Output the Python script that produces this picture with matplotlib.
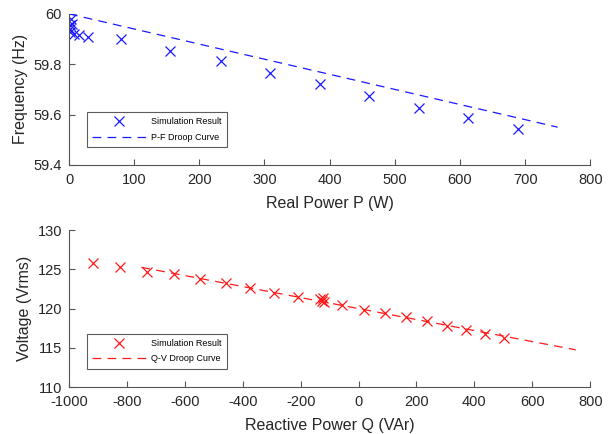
import matplotlib.pyplot as plt
import numpy as np

plt.rcParams['font.family'] = ['Liberation Sans', 'DejaVu Sans']
plt.rcParams['axes.unicode_minus'] = False

# P-F data (W, Hz)
p_sim = [1, 2, 2, 3, 4, 7, 16, 29, 79, 155, 233, 309, 385, 461, 537, 613, 689]
f_sim = [59.955, 59.94, 59.93, 59.98, 59.96, 59.92, 59.915, 59.91,
         59.901, 59.854, 59.811, 59.764, 59.722, 59.674, 59.628, 59.585, 59.542]
p_droop = [0, 750]
f_droop = [60.0, 59.55]

# Q-V data (VAr, Vrms)
q_sim = [-916, -823, -730, -637, -547, -459, -376, -293, -210,
         -134, -128, -124, -120, -58, 19, 92, 165, 235, 305, 370, 436, 501]
v_sim = [125.8, 125.3, 124.7, 124.4, 123.8, 123.2, 122.6, 122.0, 121.5,
         121.2, 121.0, 121.3, 120.8, 120.4, 119.8, 119.5, 118.9, 118.4,
         117.8, 117.3, 116.7, 116.2]
q_droop = [-750, 750]
v_droop = [125.25, 114.75]

fig = plt.figure(figsize=(6.11, 4.34), dpi=100)
ax1 = fig.add_axes([0.113, 0.62, 0.853, 0.348])
ax2 = fig.add_axes([0.113, 0.108, 0.853, 0.362])

blue = (0.1, 0.1, 1.0)
red = (1.0, 0.1, 0.1)
dash = (0, (7, 5))


def style(ax):
    for s in ['top', 'right']:
        ax.spines[s].set_visible(False)
    for s in ['left', 'bottom']:
        ax.spines[s].set_color('#555555')
        ax.spines[s].set_linewidth(0.8)
    ax.tick_params(direction='in', length=4, colors='#555555',
                   labelcolor='#262626', labelsize=10.5)
    ax.tick_params(axis='x', pad=6)
    ax.tick_params(axis='y', pad=5)


ax1.plot(p_sim, f_sim, 'x', color=blue, ms=6.5, mew=0.9, label='Simulation Result')
ax1.plot(p_droop, f_droop, color=blue, lw=0.9, linestyle=dash, label='P-F Droop Curve')
ax1.set_xlim(0, 800)
ax1.set_ylim(59.4, 60)
ax1.set_xticks(np.arange(0, 801, 100))
ax1.set_yticks([59.4, 59.6, 59.8, 60])
ax1.set_yticklabels(['59.4', '59.6', '59.8', '60'])
ax1.set_xlabel('Real Power P (W)', fontsize=11.5, color='#262626', labelpad=6)
ax1.set_ylabel('Frequency (Hz)', fontsize=11.5, color='#262626')
style(ax1)

ax2.plot(q_sim, v_sim, 'x', color=red, ms=6.5, mew=0.9, label='Simulation Result')
ax2.plot(q_droop, v_droop, color=red, lw=0.9, linestyle=dash, label='Q-V Droop Curve')
ax2.set_xlim(-1000, 800)
ax2.set_ylim(110, 130)
ax2.set_xticks(np.arange(-1000, 801, 200))
ax2.set_yticks(np.arange(110, 131, 5))
ax2.set_xlabel('Reactive Power Q (VAr)', fontsize=11.5, color='#262626', labelpad=6)
ax2.set_ylabel('Voltage (Vrms)', fontsize=11.5, color='#262626')
style(ax2)

for ax in [ax1, ax2]:
    leg = ax.legend(loc='lower left', bbox_to_anchor=(0.025, 0.088), fontsize=6.5,
                    frameon=True, fancybox=False, handlelength=6,
                    borderpad=0.6, labelspacing=0.7, handletextpad=0.5)
    leg.get_frame().set_edgecolor('#333333')
    leg.get_frame().set_linewidth(0.8)

fig.savefig('out.png', dpi=100)
